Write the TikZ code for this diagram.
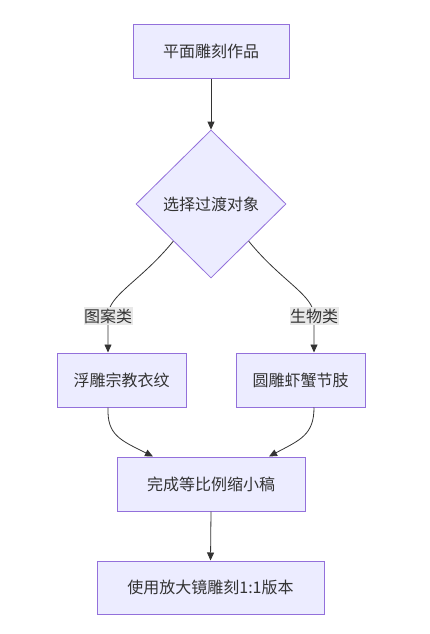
\documentclass[tikz,border=0pt]{standalone}
\usepackage{fontspec}
\setmainfont{Noto Sans CJK SC}
\usetikzlibrary{shapes.geometric,arrows.meta}
\definecolor{boxfill}{HTML}{ECECFF}
\definecolor{boxline}{HTML}{9370DB}
\definecolor{ink}{HTML}{333333}
\definecolor{lblfill}{HTML}{E8E8E8}
\tikzset{
  stepbox/.style={draw=boxline, fill=boxfill, line width=1pt, text=ink, inner sep=0pt, font=\fontsize{16}{19}\selectfont},
  decision/.style={diamond, aspect=1, draw=boxline, fill=boxfill, line width=0.8pt, text=ink, inner sep=0pt, minimum width=150pt, minimum height=148pt, font=\fontsize{16}{19}\selectfont},
  edgelabel/.style={fill=lblfill, text=ink, inner xsep=0.5pt, inner ysep=2pt, font=\fontsize{16}{19}\selectfont},
  conn/.style={draw=ink, line width=0.8pt, -{Triangle[length=8pt,width=7pt]}},
}
\begin{document}
\begin{tikzpicture}[x=1pt,y=-1pt]
\useasboundingbox (0,0) rectangle (430,634);
\node[stepbox, minimum width=156pt, minimum height=53pt] (A) at (211,51.5) {平面雕刻作品};
\node[decision] (dia) at (211,204) {选择过渡对象};
\node[stepbox, minimum width=129pt, minimum height=54pt] (B) at (121.5,380) {浮雕宗教衣纹};
\node[stepbox, minimum width=129pt, minimum height=54pt] (C) at (300.5,380) {圆雕虾蟹节肢};
\node[stepbox, minimum width=188pt, minimum height=54pt] (D) at (211,484) {完成等比例缩小稿};
\node[stepbox, minimum width=227pt, minimum height=53pt] (E) at (210.5,587.5) {使用放大镜雕刻1:1版本};

\coordinate (lmid) at (108,316);
\coordinate (rmid) at (314,316);
\draw[conn] (A.south) -- (dia.north);
\draw[conn] (dia.south west) .. controls (140,282) and (108,295) .. (lmid) -- ([xshift=-13.5pt]B.north);
\draw[conn] (dia.south east) .. controls (282,282) and (314,295) .. (rmid) -- ([xshift=13.5pt]C.north);
\node[edgelabel] (l1) at (lmid) {图案类};
\node[edgelabel] (l2) at (rmid) {生物类};
\draw[conn] ([xshift=-13.5pt]B.south) .. controls (107,435) and (120,440) .. ([xshift=-58pt]D.north);
\draw[conn] ([xshift=13.5pt]C.south) .. controls (314,435) and (300,440) .. ([xshift=58pt]D.north);
\draw[conn] (D.south) -- (E.north);
\end{tikzpicture}
\end{document}
